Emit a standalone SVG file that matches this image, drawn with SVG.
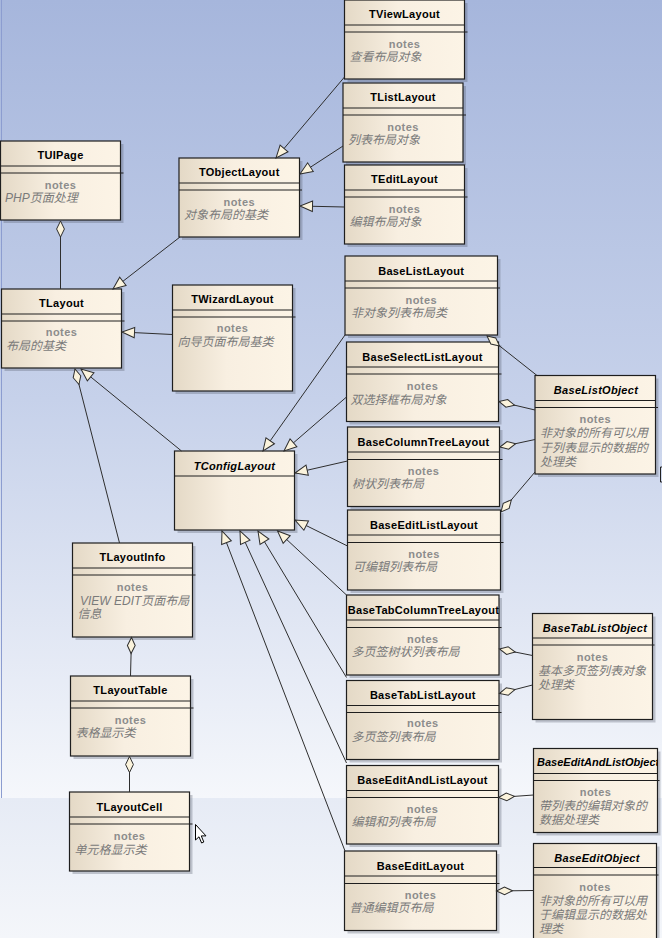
<svg xmlns="http://www.w3.org/2000/svg" width="662" height="938" viewBox="0 0 662 938">
<defs>
  <linearGradient id="bgTop" x1="0" y1="0" x2="0" y2="1">
    <stop offset="0" stop-color="#a6b6dc"/>
    <stop offset="0.5" stop-color="#c6d1ea"/>
    <stop offset="1" stop-color="#f5f7fb"/>
  </linearGradient>
  <linearGradient id="bgLow" x1="0" y1="0" x2="0" y2="1">
    <stop offset="0" stop-color="#e6ebf5"/>
    <stop offset="1" stop-color="#f4f6fa"/>
  </linearGradient>
  <linearGradient id="nodeFill" x1="0" y1="0" x2="1" y2="0">
    <stop offset="0" stop-color="#e4d9c6"/>
    <stop offset="0.45" stop-color="#f8efe1"/>
    <stop offset="1" stop-color="#fcf4e6"/>
  </linearGradient>
  <marker id="gen" markerUnits="userSpaceOnUse" markerWidth="14" markerHeight="12" refX="13" refY="6" orient="auto" overflow="visible">
    <path d="M0.5,0.8 L13,6 L0.5,11.2 Z" fill="#fbf3dc" stroke="#2e2e2e" stroke-width="1"/>
  </marker>
  <marker id="agg" markerUnits="userSpaceOnUse" markerWidth="18" markerHeight="10" refX="0.5" refY="4.5" orient="auto" overflow="visible">
    <path d="M0.5,4.5 L8.5,0.6 L16.5,4.5 L8.5,8.4 Z" fill="#fbf3dc" stroke="#2e2e2e" stroke-width="1"/>
  </marker>
  <clipPath id="clipBEALO"><rect x="533.5" y="748.5" width="124" height="84"/></clipPath>
  <style>
    .sh{fill:#4f5566;opacity:0.3}
    .box{fill:url(#nodeFill);stroke:#1e1e1e;stroke-width:1.2}
    .dv{stroke:#1e1e1e;stroke-width:1;fill:none}
    .t{font-family:"Liberation Sans",Arial,sans-serif;font-size:11px;font-weight:bold;text-anchor:middle;fill:#000;letter-spacing:0.3px}
    .it{font-style:italic}
    .n{font-family:"Liberation Sans",Arial,sans-serif;font-size:11px;font-weight:bold;text-anchor:middle;fill:#8c8c8c;letter-spacing:0.4px}
    .d{font-family:"Liberation Sans","Noto Sans CJK SC",sans-serif;font-size:12px;font-style:italic;fill:#7a7a7a}
    .c{stroke:#2e2e2e;stroke-width:1;fill:none}
    .g{marker-end:url(#gen)}
    .a{marker-start:url(#agg)}
  </style>
</defs>

<!-- canvas background -->
<rect x="0" y="0" width="662" height="798" fill="url(#bgTop)"/>
<rect x="0" y="798" width="662" height="140" fill="url(#bgLow)"/>
<line x1="1.5" y1="0" x2="1.5" y2="798" stroke="#8c9dd0" stroke-width="1"/>

<g id="nodes">
<g id="TViewLayout">
  <rect class="sh" x="347.5" y="3" width="120" height="79"/>
  <rect class="box" x="344.5" y="0" width="120" height="79"/>
  <path class="dv" d="M344.5,25 h120 M344.5,32 h123"/>
  <text class="t" x="404.5" y="18">TViewLayout</text>
  <text class="n" x="404.5" y="48">notes</text>
  <text class="d" x="349.5" y="61">查看布局对象</text>
</g>
<g id="TListLayout">
  <rect class="sh" x="346" y="86" width="120" height="79"/>
  <rect class="box" x="343" y="83" width="120" height="79"/>
  <path class="dv" d="M343,108 h120 M343,115 h123"/>
  <text class="t" x="403" y="101">TListLayout</text>
  <text class="n" x="403" y="131">notes</text>
  <text class="d" x="348" y="144">列表布局对象</text>
</g>
<g id="TEditLayout">
  <rect class="sh" x="347.5" y="168" width="120" height="79"/>
  <rect class="box" x="344.5" y="165" width="120" height="79"/>
  <path class="dv" d="M344.5,190 h120 M344.5,197 h123"/>
  <text class="t" x="404.5" y="183">TEditLayout</text>
  <text class="n" x="404.5" y="213">notes</text>
  <text class="d" x="349.5" y="226">编辑布局对象</text>
</g>
<g id="TUIPage">
  <rect class="sh" x="3.5" y="144" width="120" height="79"/>
  <rect class="box" x="0.5" y="141" width="120" height="79"/>
  <path class="dv" d="M0.5,166 h120 M0.5,173 h123"/>
  <text class="t" x="60.5" y="159">TUIPage</text>
  <text class="n" x="60.5" y="189">notes</text>
  <text class="d" x="5" y="202">PHP页面处理</text>
</g>
<g id="TObjectLayout">
  <rect class="sh" x="182" y="161" width="120.5" height="79"/>
  <rect class="box" x="179" y="158" width="120.5" height="79"/>
  <path class="dv" d="M179,183 h120.5 M179,190 h123"/>
  <text class="t" x="239.25" y="176">TObjectLayout</text>
  <text class="n" x="239.25" y="206">notes</text>
  <text class="d" x="184" y="219">对象布局的基类</text>
</g>
<g id="TLayout">
  <rect class="sh" x="4.5" y="292" width="120" height="79"/>
  <rect class="box" x="1.5" y="289" width="120" height="79"/>
  <path class="dv" d="M1.5,314 h120 M1.5,321 h123"/>
  <text class="t" x="61.5" y="307">TLayout</text>
  <text class="n" x="61.5" y="336">notes</text>
  <text class="d" x="6" y="350">布局的基类</text>
</g>
<g id="TWizardLayout">
  <rect class="sh" x="175.5" y="288" width="120" height="106"/>
  <rect class="box" x="172.5" y="285" width="120" height="106"/>
  <path class="dv" d="M172.5,310 h120 M172.5,317 h123"/>
  <text class="t" x="232.5" y="303">TWizardLayout</text>
  <text class="n" x="232.5" y="332">notes</text>
  <text class="d" x="177.5" y="346">向导页面布局基类</text>
</g>
<g id="TConfigLayout">
  <rect class="sh" x="177.5" y="454" width="120" height="79"/>
  <rect class="box" x="174.5" y="451" width="120" height="79"/>
  <path class="dv" d="M174.5,476 h120"/>
  <text class="t it" x="234.5" y="470">TConfigLayout</text>
</g>
<g id="TLayoutInfo">
  <rect class="sh" x="75.5" y="546" width="120" height="94"/>
  <rect class="box" x="72.5" y="543" width="120" height="94"/>
  <path class="dv" d="M72.5,568 h120 M72.5,575 h123"/>
  <text class="t" x="132.5" y="561">TLayoutInfo</text>
  <text class="n" x="132.5" y="591">notes</text>
  <text class="d" x="80" y="604.5">VIEW EDIT页面布局</text>
  <text class="d" x="77.5" y="618">信息</text>
</g>
<g id="TLayoutTable">
  <rect class="sh" x="73.5" y="679" width="120" height="80"/>
  <rect class="box" x="70.5" y="676" width="120" height="80"/>
  <path class="dv" d="M70.5,701 h120 M70.5,708 h123"/>
  <text class="t" x="130.5" y="694">TLayoutTable</text>
  <text class="n" x="130.5" y="724">notes</text>
  <text class="d" x="75.5" y="737">表格显示类</text>
</g>
<g id="TLayoutCell">
  <rect class="sh" x="72.5" y="795" width="120" height="79"/>
  <rect class="box" x="69.5" y="792" width="120" height="79"/>
  <path class="dv" d="M69.5,817 h120 M69.5,824 h123"/>
  <text class="t" x="129.5" y="810.5">TLayoutCell</text>
  <text class="n" x="129.5" y="840">notes</text>
  <text class="d" x="74.5" y="853.5">单元格显示类</text>
</g>
<g id="BaseListLayout">
  <rect class="sh" x="348" y="259" width="152.5" height="79"/>
  <rect class="box" x="345" y="256" width="152.5" height="79"/>
  <path class="dv" d="M345,281 h152.5 M345,288 h155"/>
  <text class="t" x="421.25" y="274.5">BaseListLayout</text>
  <text class="n" x="421.25" y="304">notes</text>
  <text class="d" x="351" y="317">非对象列表布局类</text>
</g>
<g id="BaseSelectListLayout">
  <rect class="sh" x="349.5" y="345" width="152" height="79.5"/>
  <rect class="box" x="346.5" y="342" width="152" height="79.5"/>
  <path class="dv" d="M346.5,367 h152 M346.5,374 h155"/>
  <text class="t" x="422.5" y="360.5">BaseSelectListLayout</text>
  <text class="n" x="422.5" y="390">notes</text>
  <text class="d" x="350.5" y="403.5">双选择框布局对象</text>
</g>
<g id="BaseColumnTreeLayout">
  <rect class="sh" x="350.5" y="430" width="152" height="79.5"/>
  <rect class="box" x="347.5" y="427" width="152" height="79.5"/>
  <path class="dv" d="M347.5,452 h152 M347.5,459.5 h155"/>
  <text class="t" x="423.5" y="445.5">BaseColumnTreeLayout</text>
  <text class="n" x="423.5" y="475">notes</text>
  <text class="d" x="352" y="488">树状列表布局</text>
</g>
<g id="BaseEditListLayout">
  <rect class="sh" x="350.5" y="513" width="153" height="80"/>
  <rect class="box" x="347.5" y="510" width="153" height="80"/>
  <path class="dv" d="M347.5,535 h153 M347.5,542.5 h156"/>
  <text class="t" x="424" y="529">BaseEditListLayout</text>
  <text class="n" x="424" y="558">notes</text>
  <text class="d" x="353" y="571">可编辑列表布局</text>
</g>
<g id="BaseTabColumnTreeLayout">
  <rect class="sh" x="349.5" y="598" width="152.5" height="80"/>
  <rect class="box" x="346.5" y="595" width="152.5" height="80"/>
  <path class="dv" d="M346.5,620 h152.5 M346.5,627.5 h155"/>
  <text class="t" x="423.5" y="614">BaseTabColumnTreeLayout</text>
  <text class="n" x="422.75" y="643">notes</text>
  <text class="d" x="351.5" y="656">多页签树状列表布局</text>
</g>
<g id="BaseTabListLayout">
  <rect class="sh" x="349.5" y="683.5" width="152.5" height="79"/>
  <rect class="box" x="346.5" y="680.5" width="152.5" height="79"/>
  <path class="dv" d="M346.5,705.5 h152.5 M346.5,712.5 h155"/>
  <text class="t" x="422.75" y="698.5">BaseTabListLayout</text>
  <text class="n" x="422.75" y="727">notes</text>
  <text class="d" x="351.5" y="741">多页签列表布局</text>
</g>
<g id="BaseEditAndListLayout">
  <rect class="sh" x="349.5" y="768.5" width="152" height="78.5"/>
  <rect class="box" x="346.5" y="765.5" width="152" height="78.5"/>
  <path class="dv" d="M346.5,790.5 h152 M346.5,797.5 h155"/>
  <text class="t" x="422.5" y="783.5">BaseEditAndListLayout</text>
  <text class="n" x="422.5" y="813">notes</text>
  <text class="d" x="351.5" y="826">编辑和列表布局</text>
</g>
<g id="BaseEditLayout">
  <rect class="sh" x="347.5" y="854" width="152" height="79.5"/>
  <rect class="box" x="344.5" y="851" width="152" height="79.5"/>
  <path class="dv" d="M344.5,876 h152 M344.5,883.5 h155"/>
  <text class="t" x="420.5" y="870">BaseEditLayout</text>
  <text class="n" x="420.5" y="899">notes</text>
  <text class="d" x="349.5" y="912">普通编辑页布局</text>
</g>
<g id="BaseListObject">
  <rect class="sh" x="538" y="378.5" width="120.5" height="98.5"/>
  <rect class="box" x="535" y="375.5" width="120.5" height="98.5"/>
  <path class="dv" d="M535,400.5 h120.5 M535,407.5 h123"/>
  <text class="t it" x="596" y="394">BaseListObject</text>
  <text class="n" x="595.25" y="423">notes</text>
  <text class="d" x="540" y="437">非对象的所有可以用</text>
  <text class="d" x="540" y="451.5">于列表显示的数据的</text>
  <text class="d" x="540" y="466">处理类</text>
</g>
<g id="BaseTabListObject">
  <rect class="sh" x="535.5" y="616.5" width="120" height="106"/>
  <rect class="box" x="532.5" y="613.5" width="120" height="106"/>
  <path class="dv" d="M532.5,638 h120 M532.5,645 h122"/>
  <text class="t it" x="595" y="631.5">BaseTabListObject</text>
  <text class="n" x="592.5" y="661">notes</text>
  <text class="d" x="538" y="674.5">基本多页签列表对象</text>
  <text class="d" x="538" y="689">处理类</text>
</g>
<g id="BaseEditAndListObject">
  <rect class="sh" x="536.5" y="751.5" width="124" height="84"/>
  <rect class="box" x="533.5" y="748.5" width="124" height="84"/>
  <path class="dv" d="M533.5,773.5 h124 M533.5,780.5 h126"/>
  <text class="t it" x="537" y="766" style="text-anchor:start;letter-spacing:0" clip-path="url(#clipBEALO)">BaseEditAndListObject</text>
  <text class="n" x="595.5" y="796">notes</text>
  <text class="d" x="539" y="809.5">带列表的编辑对象的</text>
  <text class="d" x="539" y="824">数据处理类</text>
</g>
<g id="BaseEditObject">
  <rect class="sh" x="536.5" y="846.5" width="123" height="100"/>
  <rect class="box" x="533.5" y="843.5" width="123" height="100"/>
  <path class="dv" d="M533.5,867.5 h123 M533.5,875 h125"/>
  <text class="t it" x="597" y="861.5">BaseEditObject</text>
  <text class="n" x="595" y="891">notes</text>
  <text class="d" x="539" y="905">非对象的所有可以用</text>
  <text class="d" x="539" y="919">于编辑显示的数据处</text>
  <text class="d" x="539" y="933">理类</text>
</g>
</g>

<g id="connectors">
  <!-- generalizations: child to parent -->
  <path class="c g" d="M344.5,77 L276,158"/>
  <path class="c g" d="M343,146 L300,174"/>
  <path class="c g" d="M344.5,207 L300,206"/>
  <path class="c g" d="M180,237 L113,289"/>
  <path class="c g" d="M172.5,334.5 L122,332"/>
  <path class="c g" d="M181.5,451 L81,369"/>
  <path class="c g" d="M345,335 L263,451"/>
  <path class="c g" d="M346.5,397 L284,451"/>
  <path class="c g" d="M347.5,461 L295,473"/>
  <path class="c g" d="M347.5,546 L295,520"/>
  <path class="c g" d="M346.5,595 L277.5,531"/>
  <path class="c g" d="M346.5,677.5 L258,531"/>
  <path class="c g" d="M346.5,763 L240,531"/>
  <path class="c g" d="M345,851 L222,531"/>
  <!-- aggregations: whole to part -->
  <path class="c a" d="M60.5,221 L60.5,289"/>
  <path class="c a" d="M75,369 L119.5,543"/>
  <path class="c a" d="M131.5,637.5 L130.5,676"/>
  <path class="c a" d="M129.5,756.5 L129.5,792"/>
  <path class="c a" d="M487,336 L537,375.5"/>
  <path class="c a" d="M499,401.5 L535,410"/>
  <path class="c a" d="M500,447 L535,439.5"/>
  <path class="c a" d="M501,512 L535,472"/>
  <path class="c a" d="M499.5,649 L532.5,655.5"/>
  <path class="c a" d="M499.5,693.5 L532.5,685"/>
  <path class="c a" d="M498.5,797.5 L533.5,795"/>
  <path class="c a" d="M496.5,891 L533.5,890.5"/>
</g>

<!-- edge of a shape past the right border -->
<path d="M662,467 H660.5 V482 H662" fill="none" stroke="#222" stroke-width="1"/>
<!-- pointer -->
<path d="M195.5,824.5 L195.5,840 L199,836.8 L201.6,843 L203.8,842 L201.3,835.9 L206,835.9 Z" fill="#fff" stroke="#000" stroke-width="1" stroke-linejoin="miter"/>
</svg>
